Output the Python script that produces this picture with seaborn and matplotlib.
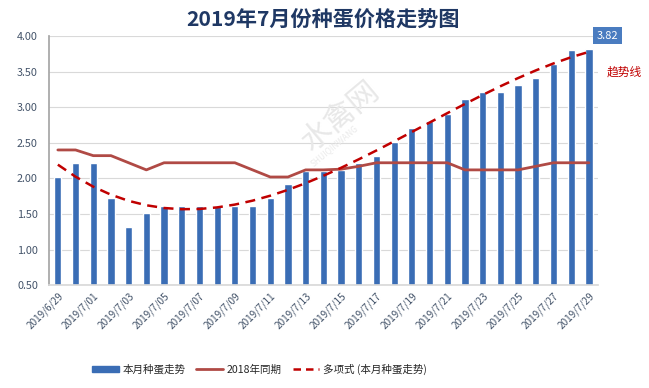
import numpy as np
import pandas as pd
import matplotlib
matplotlib.use('Agg')
import matplotlib.pyplot as plt
import seaborn as sns
from matplotlib.patches import Patch
from matplotlib.lines import Line2D

# dates 2019/6/29 .. 2019/7/29
dates = ['2019/6/29', '2019/6/30'] + ['2019/7/%02d' % d for d in range(1, 30)]

# this month's hatching-egg price
price_2019 = [2.02, 2.22, 2.22, 1.72, 1.32, 1.52, 1.61, 1.61, 1.61, 1.61, 1.61,
              1.61, 1.72, 1.92, 2.10, 2.10, 2.12, 2.22, 2.32, 2.51, 2.71, 2.81,
              2.91, 3.12, 3.21, 3.21, 3.31, 3.41, 3.61, 3.80, 3.82]

# same period 2018
price_2018 = [2.40, 2.40, 2.32, 2.32, 2.22, 2.12, 2.22, 2.22, 2.22, 2.22, 2.22,
              2.12, 2.02, 2.02, 2.12, 2.12, 2.13, 2.17, 2.22, 2.22, 2.22, 2.22,
              2.22, 2.12, 2.12, 2.12, 2.12, 2.17, 2.22, 2.22, 2.22]

title = '2019年7月份种蛋价格走势图'
bar_name = '本月种蛋走势'
line_name = '2018年同期'
trend_name = '多项式 (本月种蛋走势)'

sns.set_theme(style='white')
plt.rcParams['font.family'] = ['Noto Sans CJK SC', 'DejaVu Sans']

df = pd.DataFrame({'date': dates, 'p2019': price_2019, 'p2018': price_2018})
df['idx'] = np.arange(len(df))

# polynomial trend line like the Excel one
coef = np.polyfit(df['idx'], df['p2019'], 3)
df['trend'] = np.polyval(coef, df['idx'])

fig = plt.figure(figsize=(6.49, 3.88), dpi=100)
ax = fig.add_axes([0.0755, 0.265, 0.8455, 0.642])

tick_col = '#44546A'
bar_col = '#3A6DB5'
l18_col = '#B04A45'
trend_col = '#C00000'

sns.barplot(data=df, x='idx', y='p2019', color=bar_col, width=0.41,
            saturation=1, native_scale=True, ax=ax, zorder=2)
sns.lineplot(data=df, x='idx', y='p2018', color=l18_col, linewidth=2.0, ax=ax, zorder=3)
sns.lineplot(data=df, x='idx', y='trend', color=trend_col, linewidth=1.8, ax=ax,
             zorder=4, dashes=False, linestyle=(0, (4, 2.6)))

ax.set_xlim(-0.5, len(df) - 0.5)
ax.set_ylim(0.5, 4.0)
ax.set_yticks(np.arange(0.5, 4.01, 0.5))
ax.set_yticklabels(['%.2f' % v for v in np.arange(0.5, 4.01, 0.5)])
ax.set_xticks(df['idx'][::2])
ax.set_xticklabels(df['date'][::2], rotation=45, ha='right', rotation_mode='anchor')
ax.tick_params(axis='x', colors=tick_col, labelsize=7.2, length=0, pad=4)
ax.tick_params(axis='y', colors=tick_col, labelsize=7.8, length=0, pad=8)
ax.set_xlabel('')
ax.set_ylabel('')
ax.grid(axis='y', color='#D9D9D9', linewidth=0.8, zorder=0)
ax.set_axisbelow(True)
for s in ['top', 'right']:
    ax.spines[s].set_visible(False)
ax.spines['left'].set_color('#A6A6A6')
ax.spines['bottom'].set_color('#D9D9D9')

# watermark
fig.text(0.525, 0.70, '水禽网', fontsize=22, color='#E8E8E8', rotation=40,
         ha='center', va='center', zorder=0)
fig.text(0.515, 0.625, 'SHUIQINWANG', fontsize=6, color='#EAEAEA', rotation=40,
         ha='center', va='center', zorder=0)

fig.text(0.497, 0.948, title, fontsize=15.2, fontweight='bold', color='#1F3864',
         ha='center', va='center')

# last value label
ax.annotate('%.2f' % price_2019[-1], xy=(df['idx'].iloc[-1], price_2019[-1]),
            xytext=(13.5, 9.5), textcoords='offset points', ha='center', va='center',
            fontsize=8, color='white', annotation_clip=False,
            bbox=dict(boxstyle='square,pad=0.3', fc='#4A7CC0', ec='none'))
fig.text(0.962, 0.813, '趋势线', fontsize=8.5, color=trend_col, ha='center', va='center')

handles = [Patch(color=bar_col),
           Line2D([], [], color=l18_col, linewidth=2.0),
           Line2D([], [], color=trend_col, linewidth=1.8, linestyle=(0, (3, 2)))]
fig.legend(handles, [bar_name, line_name, trend_name], loc='center',
           bbox_to_anchor=(0.40, 0.049), ncol=3, frameon=False, fontsize=7.6,
           handlelength=2.5, handleheight=0.5, columnspacing=1.0, handletextpad=0.4)

fig.savefig('out.png', dpi=100)
